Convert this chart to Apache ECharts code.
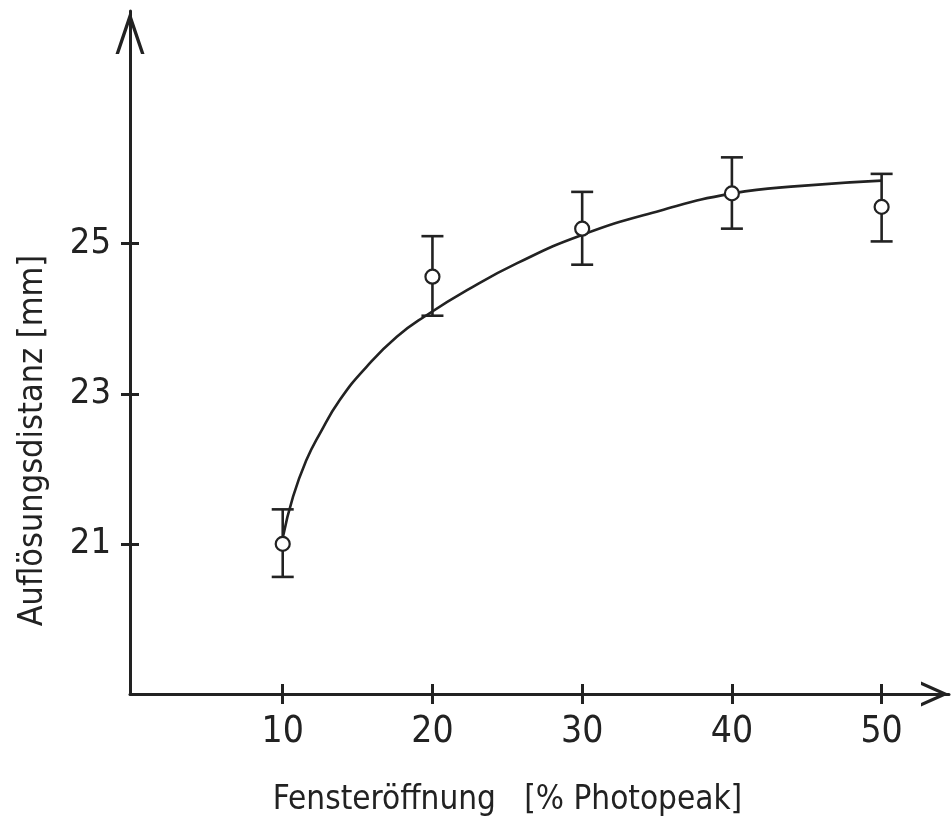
<!DOCTYPE html>
<html>
<head>
<meta charset="utf-8">
<script src="https://cdn.jsdelivr.net/npm/echarts@6/dist/echarts.min.js"></script>
<style>
  html, body { margin: 0; padding: 0; background: #fff; }
  #main { width: 952px; height: 822px; }
</style>
</head>
<body>
<div id="main"></div>
<script>
// Messpunkte (Mittelwert und Fehlerbalken)
var windowPct = [10, 20, 30, 40, 50];
var distMean = [21.0, 24.56, 25.2, 25.67, 25.49];
var distLow = [20.56, 24.04, 24.72, 25.2, 25.03];
var distHigh = [21.46, 25.1, 25.69, 26.15, 25.93];

// Ausgleichskurve
var fitX = [10, 10.69, 11.59, 12.48, 13.82, 15.6, 17.62, 19.63, 22.31, 25.66, 29.9, 35.2, 40.06, 44.64, 50];
var fitY = [21.08, 21.63, 22.12, 22.47, 22.92, 23.36, 23.76, 24.05, 24.38, 24.74, 25.11, 25.44, 25.67, 25.77, 25.84];

var xTicks = [10, 20, 30, 40, 50];
var yTicks = [21, 23, 25];

var ink = '#222';
var font = "'Liberation Sans Narrow', 'DejaVu Sans Condensed', 'Liberation Sans', sans-serif";

// offene Pfeilspitze (zeigt nach oben, wird von echarts gedreht)
function chevron(w, h, t) {
  var d = h * t / (w / 2);
  return 'path://M' + (w / 2) + ' 0L' + w + ' ' + h + 'L' + (w - t) + ' ' + h +
    'L' + (w / 2) + ' ' + d + 'L' + t + ' ' + h + 'L0 ' + h + 'Z';
}

var chart = echarts.init(document.getElementById('main'));

var options = {
  animation: false,
  backgroundColor: '#fff',
  grid: { left: 130, right: 3, top: 11, bottom: 128, outerBoundsMode: 'none' },
  xAxis: [
    {
      type: 'value',
      min: -0.2,
      max: 54.5,
      position: 'bottom',
      axisLine: {
        onZero: false,
        lineStyle: { color: ink, width: 3 },
        symbol: ['none', chevron(25, 28, 3.5)],
        symbolSize: [25, 28],
        symbolOffset: [0, -14]
      },
      axisTick: { customValues: xTicks, length: 10, lineStyle: { color: ink, width: 3 } },
      axisLabel: { customValues: xTicks, margin: 20, fontSize: 37, color: ink, fontFamily: font },
      splitLine: { show: false },
      name: 'Fensteröffnung   [% Photopeak]',
      nameLocation: 'middle',
      nameGap: 90,
      nameTextStyle: { fontSize: 33, color: ink, fontFamily: font, padding: [0, 64, 0, 0] }
    },
    {
      // Teilstriche nach innen
      type: 'value',
      min: -0.2,
      max: 54.5,
      position: 'bottom',
      axisLine: { show: false, onZero: false },
      axisTick: { inside: true, customValues: xTicks, length: 10, lineStyle: { color: ink, width: 3 } },
      axisLabel: { show: false },
      splitLine: { show: false }
    }
  ],
  yAxis: [
    {
      type: 'value',
      min: 19,
      max: 28.1,
      position: 'left',
      axisLine: {
        onZero: false,
        lineStyle: { color: ink, width: 3 },
        symbol: ['none', chevron(29, 43, 3.5)],
        symbolSize: [29, 43],
        symbolOffset: [0, -21.5]
      },
      axisTick: { customValues: yTicks, length: 9, lineStyle: { color: ink, width: 3 } },
      axisLabel: { customValues: yTicks, margin: 19, fontSize: 36, color: ink, fontFamily: font },
      splitLine: { show: false },
      name: 'Auflösungsdistanz [mm]',
      nameLocation: 'middle',
      nameGap: 80,
      nameTextStyle: { fontSize: 34, color: ink, fontFamily: font, padding: [0, 176, 0, 0] }
    },
    {
      type: 'value',
      min: 19,
      max: 28.1,
      position: 'left',
      axisLine: { show: false, onZero: false },
      axisTick: { inside: true, customValues: yTicks, length: 9, lineStyle: { color: ink, width: 3 } },
      axisLabel: { show: false },
      splitLine: { show: false }
    }
  ],
  series: [
    {
      type: 'line',
      data: fitX.map(function (x, i) { return [x, fitY[i]]; }),
      smooth: 0.5,
      showSymbol: false,
      lineStyle: { color: ink, width: 2.6 },
      z: 3
    },
    {
      type: 'custom',
      data: windowPct.map(function (x, i) { return [x, distLow[i], distHigh[i]]; }),
      renderItem: function (params, api) {
        var x = api.value(0);
        var lo = api.coord([x, api.value(1)]);
        var hi = api.coord([x, api.value(2)]);
        var c = 11;
        var style = { stroke: ink, lineWidth: 2.6 };
        return {
          type: 'group',
          children: [
            { type: 'line', shape: { x1: lo[0], y1: lo[1], x2: hi[0], y2: hi[1] }, style: style },
            { type: 'line', shape: { x1: lo[0] - c, y1: lo[1], x2: lo[0] + c, y2: lo[1] }, style: style },
            { type: 'line', shape: { x1: hi[0] - c, y1: hi[1], x2: hi[0] + c, y2: hi[1] }, style: style }
          ]
        };
      },
      z: 4
    },
    {
      type: 'scatter',
      data: windowPct.map(function (x, i) { return [x, distMean[i]]; }),
      symbol: 'circle',
      symbolSize: 14,
      itemStyle: { color: '#fff', borderColor: ink, borderWidth: 2.2, opacity: 1 },
      z: 5
    }
  ]
};

chart.setOption(options);
</script>
</body>
</html>
